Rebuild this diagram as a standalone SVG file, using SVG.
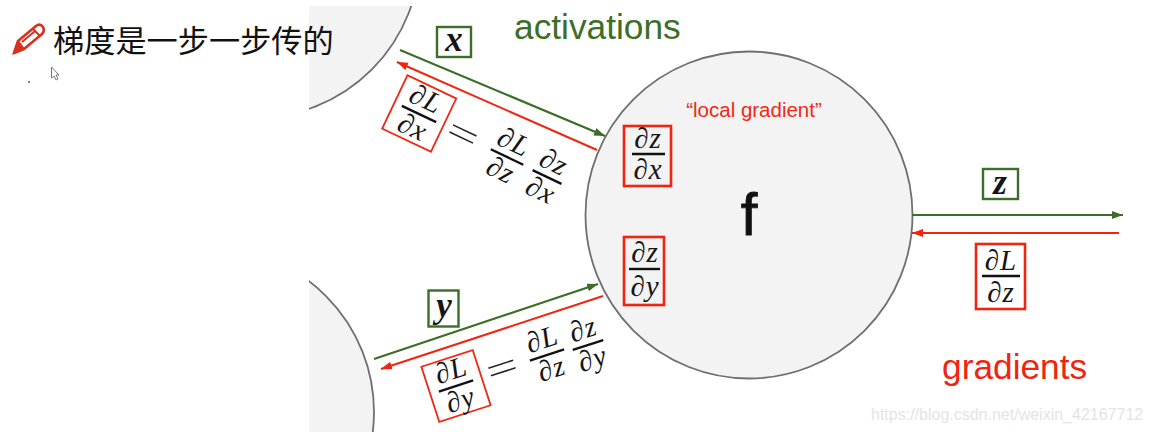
<svg xmlns="http://www.w3.org/2000/svg" width="1152" height="432" viewBox="0 0 1152 432">
<style>
.node{fill:#f3f3f4;stroke:#6f6f6f;stroke-width:1.800}
.g{stroke:#3c6e28;stroke-width:2.2;fill:none}
.r{stroke:#f0240f;stroke-width:2;fill:none}
.gb{fill:#fff;stroke:#3c6e28;stroke-width:2.4}
.rb{fill:none;stroke:#f0240f;stroke-width:2.6}
.rt{fill:none;stroke:#ee2a14;stroke-width:1.800}
.m{font-family:"Liberation Serif",serif;font-style:italic;fill:#151515;text-anchor:middle}
.f{font-size:29px;letter-spacing:1px}
.v{font-size:35px;font-weight:bold}
.b{stroke:#111;stroke-width:2.4}
.s{font-family:"Liberation Sans",Arial,sans-serif}
</style>
<defs>
<marker id="ag" markerUnits="userSpaceOnUse" markerWidth="12" markerHeight="10" refX="11" refY="4" orient="auto"><path d="M0 0L11 4L0 8z" fill="#3c6e28"/></marker>
<marker id="ar" markerUnits="userSpaceOnUse" markerWidth="12" markerHeight="10" refX="11" refY="4" orient="auto"><path d="M0 0L11 4L0 8z" fill="#f0240f"/></marker>
<clipPath id="panel"><rect x="309" y="6" width="843" height="426"/></clipPath>
</defs>
<rect width="1152" height="432" fill="#fff"/>
<g id="node-top" clip-path="url(#panel)"><circle class="node" cx="255" cy="-47" r="165"/></g>
<g id="node-bottom" clip-path="url(#panel)"><circle class="node" cx="210" cy="412" r="164"/></g>
<g id="node-f">
<circle class="node" cx="749" cy="215" r="163.500"/>
<text class="s" x="749" y="235" font-size="60" text-anchor="middle" fill="#111" stroke="#111" stroke-width="0.800">f</text>
<text class="s" x="754" y="117" font-size="20.500" text-anchor="middle" fill="#ee2a14">“local gradient”</text>
</g>
<g id="connectors">
<path class="g" marker-end="url(#ag)" d="M400 50L605 136"/>
<path class="r" marker-end="url(#ar)" d="M597 150L397 62"/>
<path class="g" marker-end="url(#ag)" d="M374 359L598 284"/>
<path class="r" marker-end="url(#ar)" d="M603 296L381 369"/>
<path class="g" marker-end="url(#ag)" d="M912 215L1123 215"/>
<path class="r" marker-end="url(#ar)" d="M1119 233L912 233"/>
</g>
<g id="title">
<path d="M14 53L18 41L36 26Q40 23 43 27Q45 31 42 34L24 49z" fill="#fff" stroke="#d8301c" stroke-width="2.600" stroke-linejoin="round"/>
<path d="M14 53L18 44L23 49zM18 41L24 49M33 29L40 36M22 42L35 31" stroke="#d8301c" stroke-width="2" fill="#d8301c"/>
<text x="53" y="52" font-size="31.200" font-family="'Noto Sans CJK SC','Noto Sans',sans-serif" fill="#111">梯度是一步一步传的</text>
<path d="M51.500 67L51.500 78L54 76L56 80L58 79L56 75L59 75z" fill="#fff" stroke="#777" stroke-width="1"/>
<circle cx="29" cy="82" r="1" fill="#555"/>
</g>
<g id="label-x"><rect class="gb" x="437" y="27" width="34" height="30"/><text class="m v" x="454" y="51">x</text></g>
<g id="label-y"><rect class="gb" x="428.500" y="290.500" width="30" height="36"/><text class="m v" x="444" y="317">y</text></g>
<g id="label-z"><rect class="gb" x="983" y="169" width="35" height="30"/><text class="m v" x="1000" y="194">z</text></g>
<g id="grad-zx"><rect class="rb" x="624" y="126" width="47" height="60"/>
<text class="m f" x="648" y="148">∂z</text><path class="b" d="M632 154H665"/><text class="m f" x="648" y="179">∂x</text></g>
<g id="grad-zy"><rect class="rb" x="624" y="237" width="40" height="68"/>
<text class="m f" x="645" y="262">∂z</text><path class="b" d="M629 269H660"/><text class="m f" x="645" y="296">∂y</text></g>
<g id="grad-Lz"><rect class="rb" fill="#fff" x="976" y="244" width="49" height="65"/>
<text class="m f" x="1001" y="270">∂L</text><path class="b" d="M982 276H1020"/><text class="m f" x="1001" y="302">∂z</text></g>
<g id="eq-x">
<g transform="translate(419 114) rotate(25.400)"><rect class="rt" x="-27" y="-30" width="54" height="59"/>
<text class="m f" x="0" y="-7">∂L</text><path class="b" d="M-19 0H19"/><text class="m f" x="0" y="24">∂x</text></g>
<g transform="translate(463 134) rotate(25.400)"><path d="M-13 -4H13M-13 4H13" stroke="#222" stroke-width="1.500"/></g>
<g transform="translate(507 157) rotate(25.400)"><text class="m f" x="0" y="-7">∂L</text><path class="b" d="M-18 0H18"/><text class="m f" x="0" y="24">∂z</text></g>
<g transform="translate(547 177) rotate(25.400)"><text class="m f" x="0" y="-7">∂z</text><path class="b" d="M-16 0H16"/><text class="m f" x="0" y="24">∂x</text></g>
</g>
<g id="eq-y">
<g transform="translate(456 386) rotate(-18)"><rect class="rt" x="-27" y="-29" width="54" height="58"/>
<text class="m f" x="0" y="-7">∂L</text><path class="b" d="M-18 0H18"/><text class="m f" x="0" y="24">∂y</text></g>
<g transform="translate(502 368) rotate(-18)"><path d="M-13 -4H13M-13 4H13" stroke="#222" stroke-width="1.500"/></g>
<g transform="translate(547 355) rotate(-18)"><text class="m f" x="0" y="-7">∂L</text><path class="b" d="M-18 0H18"/><text class="m f" x="0" y="24">∂z</text></g>
<g transform="translate(588 345) rotate(-18)"><text class="m f" x="0" y="-7">∂z</text><path class="b" d="M-16 0H16"/><text class="m f" x="0" y="24">∂y</text></g>
</g>
<text class="s" x="514" y="39" font-size="35.300" fill="#3c6e28">activations</text>
<text class="s" x="942" y="379" font-size="35.300" fill="#f0240f">gradients</text>
<text class="s" x="871" y="420" font-size="16" fill="#e4e4e4">https://blog.csdn.net/weixin_42167712</text>
</svg>
